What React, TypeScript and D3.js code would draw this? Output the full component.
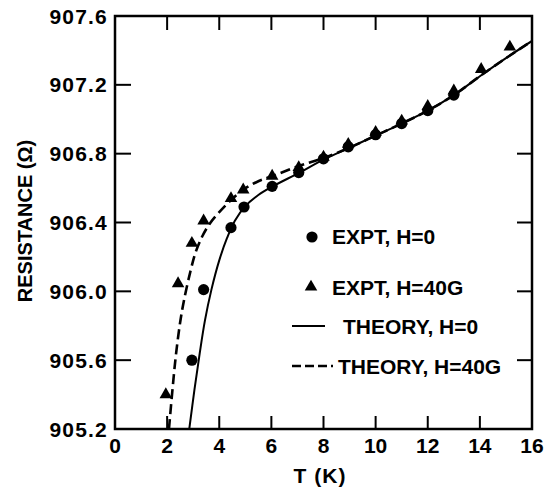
import React from "react";
import * as d3 from "d3";

// experimental points, H = 0 (circles)
const exptH0T = [2.95, 3.4, 4.45, 4.95, 6.03, 7.05, 8.0, 8.95, 10.0, 11.0, 12.0, 13.0];
const exptH0R = [905.6, 906.01, 906.37, 906.49, 906.61, 906.69, 906.77, 906.84, 906.91, 906.975, 907.05, 907.14];

// experimental points, H = 40G (triangles)
const exptH40T = [1.95, 2.42, 2.95, 3.4, 4.45, 4.92, 6.03, 7.05, 8.0, 8.95, 10.0, 11.0, 12.0, 13.0, 14.05, 15.15];
const exptH40R = [905.4, 906.045, 906.28, 906.41, 906.54, 906.59, 906.67, 906.72, 906.78, 906.855, 906.925, 906.99, 907.075, 907.165, 907.29, 907.42];

// theory curves
const theoryH0T = [2.85, 3.05, 3.25, 3.45, 3.7, 4.0, 4.3, 4.6, 5.0, 5.5, 6.05, 7.08, 8, 9, 10, 11, 12, 13, 14, 15, 16];
const theoryH0R = [905.2, 905.43, 905.64, 905.83, 906.01, 906.18, 906.31, 906.41, 906.495, 906.56, 906.61, 906.69, 906.765, 906.835, 906.905, 906.975, 907.05, 907.14, 907.25, 907.355, 907.455];
const theoryH40T = [2.07, 2.2, 2.33, 2.5, 2.65, 2.9, 3.1, 3.35, 3.62, 4.0, 4.45, 4.96, 5.5, 6.05, 7.08, 8, 9, 10, 11, 12, 13, 14, 15, 16];
const theoryH40R = [905.2, 905.42, 905.62, 905.82, 905.95, 906.12, 906.23, 906.32, 906.39, 906.46, 906.53, 906.595, 906.64, 906.67, 906.73, 906.775, 906.835, 906.905, 906.975, 907.05, 907.14, 907.25, 907.355, 907.455];

const xTicks = [0, 2, 4, 6, 8, 10, 12, 14, 16];
const yTicks = [905.2, 905.6, 906.0, 906.4, 906.8, 907.2, 907.6];

const legendLabels = ["EXPT, H=0", "EXPT, H=40G", "THEORY, H=0", "THEORY, H=40G"];

const box = { left: 115, right: 532, top: 16, bottom: 429 };
const font = "'Liberation Sans', Arial, sans-serif";

export default function App() {
  const x = d3.scaleLinear().domain([0, 16]).range([box.left, box.right]);
  const y = d3.scaleLinear().domain([905.2, 907.6]).range([box.bottom, box.top]);

  const line = d3
    .line<[number, number]>()
    .x((d) => x(d[0]))
    .y((d) => y(d[1]))
    .curve(d3.curveCatmullRom.alpha(0.5));

  const solidPath = line(theoryH0T.map((t, i) => [t, theoryH0R[i]]));
  const dashPath = line(theoryH40T.map((t, i) => [t, theoryH40R[i]]));
  const tri = d3.symbol(d3.symbolTriangle, 68)();

  return (
    <svg
      width={545}
      height={487}
      style={{ position: "absolute", left: 0, top: 0, background: "#fff" }}
      fontFamily={font}
      fontWeight="bold"
    >
      <defs>
        <clipPath id="plot">
          <rect x={box.left} y={box.top} width={box.right - box.left} height={box.bottom - box.top} />
        </clipPath>
      </defs>

      {/* ticks, inward on all four sides */}
      {xTicks.slice(1, -1).map((t) => (
        <g key={"xt" + t} stroke="#000" strokeWidth={2}>
          <line x1={x(t)} x2={x(t)} y1={box.bottom} y2={box.bottom - 13} />
          <line x1={x(t)} x2={x(t)} y1={box.top} y2={box.top + 14} />
        </g>
      ))}
      {yTicks.slice(1, -1).map((v) => (
        <g key={"yt" + v} stroke="#000" strokeWidth={2}>
          <line x1={box.left} x2={box.left + 16} y1={y(v)} y2={y(v)} />
          <line x1={box.right} x2={box.right - 15} y1={y(v)} y2={y(v)} />
        </g>
      ))}

      <rect
        x={box.left}
        y={box.top}
        width={box.right - box.left}
        height={box.bottom - box.top}
        fill="none"
        stroke="#000"
        strokeWidth={2.5}
      />

      {xTicks.map((t) => (
        <text key={"xl" + t} x={x(t)} y={453} textAnchor="middle" fontSize={21}>
          {t}
        </text>
      ))}
      {yTicks.map((v) => (
        <text key={"yl" + v} x={108} y={y(v)} dy="0.36em" textAnchor="end" fontSize={21} letterSpacing={1.2}>
          {v.toFixed(1)}
        </text>
      ))}

      <text x={320} y={483} textAnchor="middle" fontSize={21} letterSpacing={1}>
        T (K)
      </text>
      <text transform="translate(32,221) rotate(-90)" textAnchor="middle" fontSize={20}>
        RESISTANCE (Ω)
      </text>

      <g clipPath="url(#plot)" fill="none" stroke="#000">
        <path d={solidPath ?? ""} strokeWidth={2} />
        <path d={dashPath ?? ""} strokeWidth={2.6} strokeDasharray="10,5" />
      </g>

      {exptH0T.map((t, i) => (
        <circle key={"c" + i} cx={x(t)} cy={y(exptH0R[i])} r={5.6} fill="#000" />
      ))}
      {exptH40T.map((t, i) => (
        <path key={"t" + i} d={tri ?? ""} transform={`translate(${x(t)},${y(exptH40R[i])})`} fill="#000" />
      ))}

      {/* legend */}
      <circle cx={312} cy={237} r={5.6} fill="#000" />
      <path d={tri ?? ""} transform="translate(311,287)" fill="#000" />
      <line x1={292} x2={325} y1={326} y2={326} stroke="#000" strokeWidth={2} />
      <line x1={292} x2={333} y1={366} y2={366} stroke="#000" strokeWidth={2.6} strokeDasharray="9,4" />
      <text x={332} y={244} fontSize={21}>{legendLabels[0]}</text>
      <text x={332} y={295} fontSize={21}>{legendLabels[1]}</text>
      <text x={343} y={334} fontSize={21}>{legendLabels[2]}</text>
      <text x={338} y={374} fontSize={21}>{legendLabels[3]}</text>
    </svg>
  );
}
